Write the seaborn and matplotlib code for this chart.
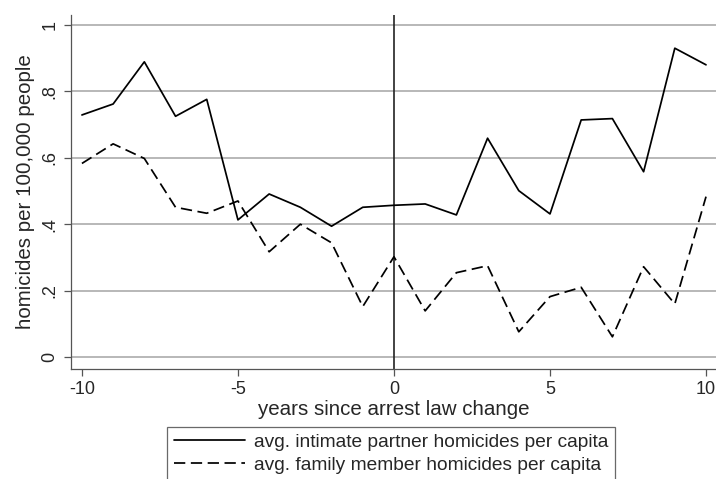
import numpy as np
import pandas as pd
import matplotlib
matplotlib.use("Agg")
import matplotlib.pyplot as plt
import seaborn as sns

# years relative to the arrest law change
years = list(range(-10, 11))

# avg. intimate partner homicides per capita
intimate = [0.729, 0.762, 0.889, 0.725, 0.776, 0.413, 0.491, 0.451, 0.394, 0.451,
            0.457, 0.461, 0.428, 0.659, 0.501, 0.431, 0.714, 0.718, 0.558, 0.930, 0.880]

# avg. family member homicides per capita
family = [0.583, 0.642, 0.598, 0.451, 0.433, 0.470, 0.317, 0.400, 0.344, 0.152,
          0.302, 0.139, 0.254, 0.275, 0.076, 0.182, 0.210, 0.061, 0.272, 0.160, 0.483]

series_names = ["avg. intimate partner homicides per capita",
                "avg. family member homicides per capita"]
xticks = [-10, -5, 0, 5, 10]
yticks = [0, 0.2, 0.4, 0.6, 0.8, 1.0]
ytick_labels = ["0", ".2", ".4", ".6", ".8", "1"]

df = pd.DataFrame({
    "year": years * 2,
    "value": intimate + family,
    "series": [series_names[0]] * len(years) + [series_names[1]] * len(years),
})

sns.set_style("white")
plt.rcParams["font.family"] = ["Liberation Sans", "DejaVu Sans"]

fig = plt.figure(figsize=(7.16, 4.79), dpi=100)
ax = fig.add_axes([71 / 716, 110 / 479, 645 / 716, 354 / 479])

for y in yticks:
    ax.axhline(y, color="#b8b8b8", lw=1.4, zorder=0)
ax.axvline(0, color="#222222", lw=1.2, zorder=1)

sns.lineplot(data=df, x="year", y="value", hue="series", style="series",
             palette=["black", "black"], dashes=["", (6.5, 3.2)],
             linewidth=1.25, ax=ax, zorder=3)

ax.set_xlim(-10.35, 10.32)
ax.set_ylim(-0.036, 1.03)
ax.set_xticks(xticks)
ax.set_xticklabels([str(t) for t in xticks], fontsize=13)
ax.set_yticks(yticks)
ax.set_yticklabels(ytick_labels, fontsize=13, rotation=90, va="center")
ax.tick_params(axis="both", direction="out", length=5, width=0.9, color="#555555",
               left=True, bottom=True, pad=4)
ax.set_xlabel("years since arrest law change", fontsize=14.8, labelpad=1)
ax.set_ylabel("homicides per 100,000 people", fontsize=14.8, labelpad=5)

for side in ["top", "right"]:
    ax.spines[side].set_visible(False)
for side in ["left", "bottom"]:
    ax.spines[side].set_color("#555555")
    ax.spines[side].set_linewidth(0.9)

handles, labels = ax.get_legend_handles_labels()
ax.get_legend().remove()
leg = fig.legend(handles, labels, loc="upper left",
                 bbox_to_anchor=(167 / 716, 1 - 427 / 479),
                 frameon=True, fancybox=False, fontsize=13.8,
                 handlelength=3.7, borderpad=0.35, labelspacing=0.28,
                 handletextpad=0.5, borderaxespad=0)
leg.get_frame().set_edgecolor("#444444")
leg.get_frame().set_linewidth(0.9)

fig.savefig("out.png", dpi=100)
